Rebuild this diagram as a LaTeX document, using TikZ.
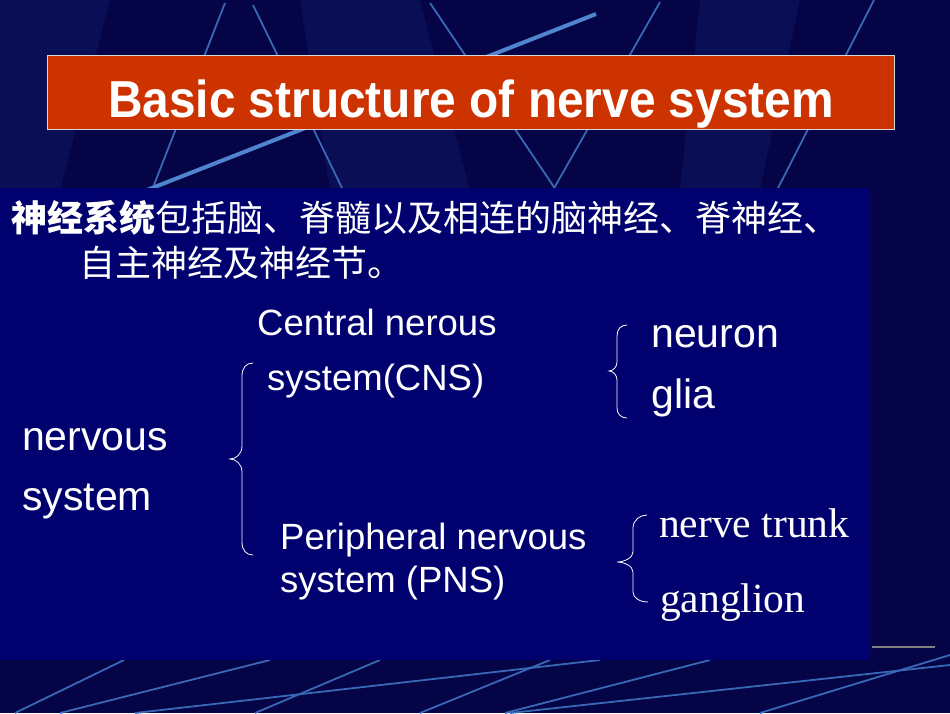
\documentclass[tikz,border=0pt]{standalone}
\usepackage{fontspec}
\setmainfont{Liberation Sans}
\newfontfamily\serifrm{Liberation Serif}
\newfontfamily\cjk{Noto Sans CJK SC}
\definecolor{bgnavy}{RGB}{4,4,70}
\definecolor{bgnavylight}{RGB}{10,14,84}
\definecolor{panelblue}{RGB}{0,0,110}
\definecolor{titlered}{RGB}{204,51,0}
\definecolor{decoline}{RGB}{56,104,182}
\definecolor{decolight}{RGB}{80,132,206}
\tikzset{
  deco/.style={draw=decoline, line width=1.8pt},
  brc/.style={draw=white, line width=0.8pt},
  lbl/.style={anchor=base west, inner sep=0pt, text=white},
  big/.style={lbl, font=\fontsize{41}{41}\selectfont},
  mid/.style={lbl, font=\fontsize{36.5}{36.5}\selectfont},
  tms/.style={lbl, font=\serifrm\fontsize{41.5}{41.5}\selectfont},
  zh/.style={lbl, font=\cjk\fontsize{36}{36}\selectfont}
}
\begin{document}
\begin{tikzpicture}[x=1pt,y=-1pt]
\useasboundingbox (0,0) rectangle (950,713);
% background
\fill[bgnavy] (0,0) rectangle (950,713);
\fill[bgnavylight] (0,0) -- (110,0) -- (60,190) -- (0,190) -- cycle;
\fill[bgnavylight] (300,0) -- (420,0) -- (470,190) -- (330,190) -- cycle;
\fill[bgnavylight] (700,0) -- (800,0) -- (760,190) -- (680,190) -- cycle;
% decorative lines (top)
\draw[deco] (225,3) -- (152,190);
\draw[deco] (253,5) -- (343,190);
\draw[deco] (430,3) -- (556,190);
\draw[deco] (660,2) -- (553,190);
\draw[deco] (874,0) -- (777,190);
\draw[draw=decolight, line width=4pt] (596,14) -- (147,190);
% decorative lines (bottom)
\draw[deco] (15,713) -- (124,660);
\draw[deco] (60,713) -- (270,660);
\draw[deco] (255,713) -- (380,660);
\draw[deco] (135,713) -- (600,660);
\draw[deco] (420,713) -- (550,660);
\draw[deco] (505,713) -- (710,660);
\draw[deco] (760,713) -- (950,655);
\draw[deco] (510,713) -- (950,665);
\draw[draw=gray, line width=1.5pt] (872,647) -- (935,647);
% panel
\fill[panelblue] (0,188) rectangle (870,660);
% title box
\node[draw={rgb,255:red,215;green,215;blue,215}, line width=1.2pt, fill=titlered,
      minimum width=847pt, minimum height=74pt, anchor=north west, inner sep=0pt]
      (titlebox) at (47,55) {};
\node[anchor=base, inner sep=0pt, text=white, font=\bfseries\fontsize{52}{52}\selectfont]
      (title) at (471,117) {\scalebox{0.92}[1]{Basic structure of nerve system}};
% chinese text
\node[zh] (zh1) at (11,231) {{\bfseries 神经系统}包括脑、脊髓以及相连的脑神经、脊神经、};
\node[zh] (zh2) at (79,276) {自主神经及神经节。};
% labels
\node[big] (ns1) at (22,450) {nervous};
\node[big] (ns2) at (22,510) {system};
\node[mid] (cns1) at (257,335) {Central nerous};
\node[mid] (cns2) at (267,390) {system(CNS)};
\node[mid] (pns1) at (280,549) {Peripheral nervous};
\node[mid] (pns2) at (280,592) {system (PNS)};
\node[big] (neuron) at (651,347) {neuron};
\node[big] (glia) at (651,408) {glia};
\node[tms] (trunk) at (659,537) {nerve trunk};
\node[tms] (gang) at (660,612) {ganglion};
% braces
\draw[brc] (253,363) .. controls (246,363) and (242,368) .. (242,376) -- (242,446)
  .. controls (242,454) and (236,459) .. (230,459)
  .. controls (236,459) and (242,464) .. (242,472) -- (242,542)
  .. controls (242,550) and (246,555) .. (253,555);
\draw[brc] (627,325) .. controls (621,325) and (617,329) .. (617,336) -- (617,362)
  .. controls (617,367) and (613,371) .. (609,371)
  .. controls (613,371) and (617,375) .. (617,380) -- (617,408)
  .. controls (617,414) and (621,418) .. (627,418);
\draw[brc] (647,515) .. controls (640,515) and (633,520) .. (633,528) -- (633,552)
  .. controls (633,558) and (624,562) .. (617,562)
  .. controls (624,562) and (633,566) .. (633,572) -- (633,592)
  .. controls (633,598) and (640,602) .. (648,602);
\end{tikzpicture}
\end{document}
